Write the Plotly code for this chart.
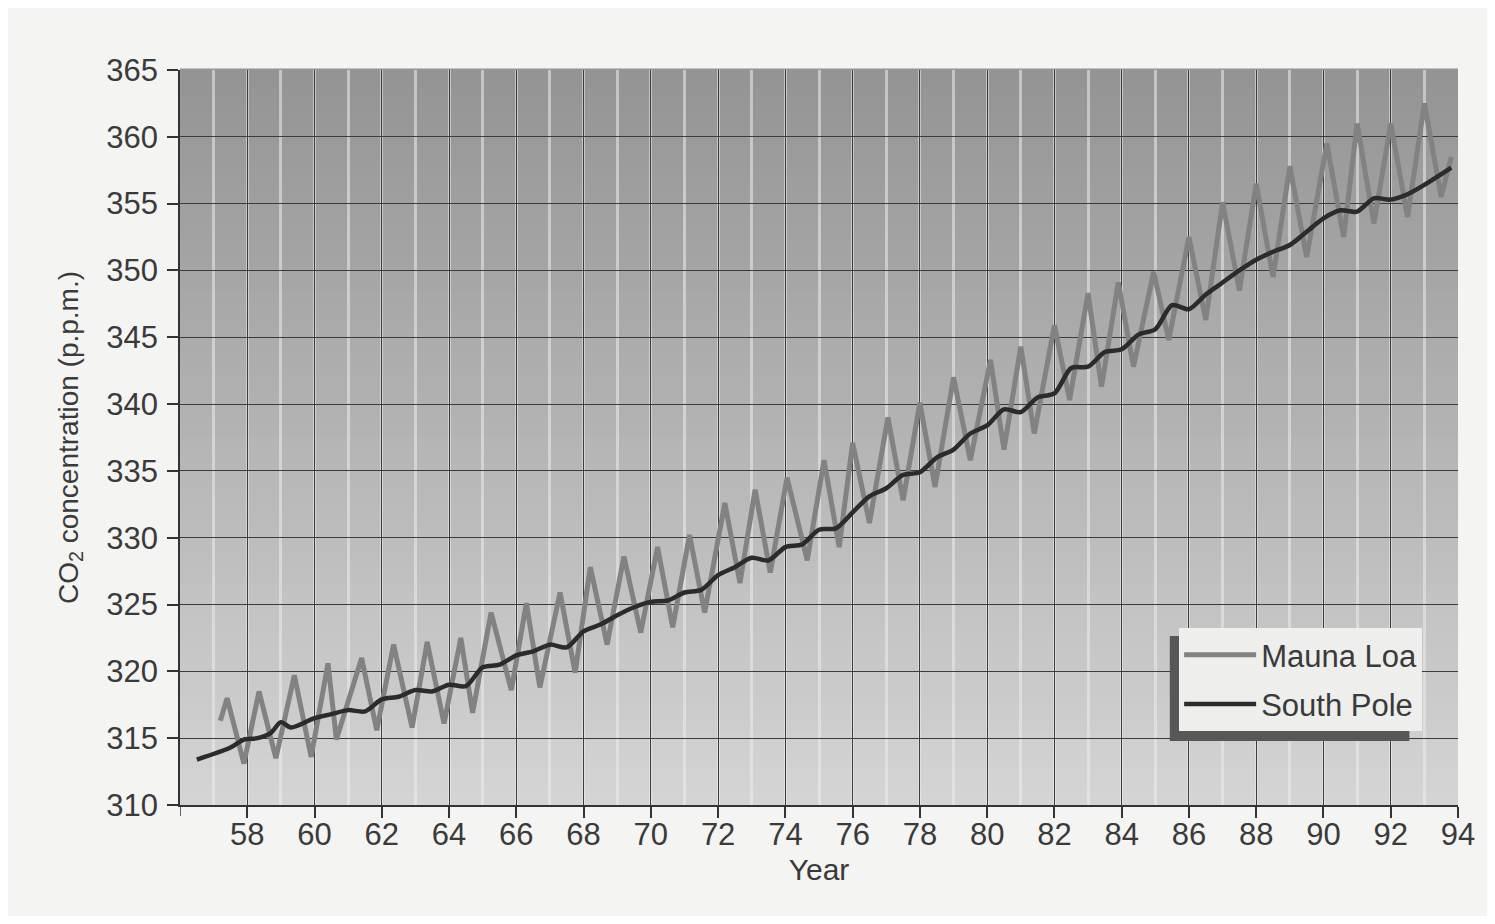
import plotly.graph_objects as go

# ---------------- data ----------------
ml_year = [57.2, 57.4, 57.9, 58.35, 58.85, 59.4, 59.9, 60.4, 60.65, 61.4, 61.85, 62.35, 62.9,
           63.35, 63.85, 64.35, 64.7, 65.25, 65.85, 66.3, 66.7, 67.3, 67.75, 68.2, 68.7, 69.2,
           69.7, 70.2, 70.65, 71.15, 71.6, 72.2, 72.65, 73.1, 73.55, 74.05, 74.65, 75.15, 75.6,
           76.0, 76.5, 77.05, 77.5, 78.0, 78.45, 79.0, 79.5, 80.1, 80.5, 81.0, 81.4, 82.0, 82.45,
           83.0, 83.4, 83.9, 84.35, 84.95, 85.4, 86.0, 86.5, 87.0, 87.5, 88.0, 88.5, 89.0, 89.5,
           90.1, 90.6, 91.0, 91.5, 92.0, 92.5, 93.0, 93.5, 93.8]
ml_co2 = [316.3, 318.0, 313.1, 318.5, 313.5, 319.7, 313.6, 320.6, 314.9, 321.0, 315.6, 322.0, 315.8,
          322.2, 316.1, 322.5, 316.9, 324.4, 318.6, 325.1, 318.8, 325.9, 319.9, 327.8, 322.0, 328.6,
          322.9, 329.3, 323.3, 330.2, 324.4, 332.6, 326.6, 333.6, 327.4, 334.5, 328.3, 335.8, 329.3,
          337.1, 331.1, 339.0, 332.8, 340.1, 333.8, 342.0, 335.8, 343.3, 336.6, 344.3, 337.8, 345.9, 340.3,
          348.3, 341.3, 349.1, 342.8, 349.9, 344.8, 352.5, 346.3, 355.1, 348.5, 356.5, 349.5, 357.8, 351.0,
          359.5, 352.5, 361.0, 353.5, 361.0, 354.0, 362.5, 355.5, 358.5]

sp_year = [56.5, 57.5, 57.9, 58.3, 58.7, 59.0, 59.3, 60.0, 60.5, 61.0, 61.5, 62.0, 62.5, 63.0,
           63.5, 64.0, 64.5, 65.0, 65.5, 66.0, 66.5, 67.0, 67.5, 68.0, 68.5, 69.0, 69.5, 70.0,
           70.5, 71.0, 71.5, 72.0, 72.5, 73.0, 73.5, 74.0, 74.5, 75.0, 75.5, 76.0, 76.5, 77.0,
           77.5, 78.0, 78.5, 79.0, 79.5, 80.0, 80.5, 81.0, 81.5, 82.0, 82.5, 83.0, 83.5, 84.0,
           84.5, 85.0, 85.5, 86.0, 86.5, 87.0, 87.5, 88.0, 88.5, 89.0, 89.5, 90.0, 90.5, 91.0,
           91.5, 92.0, 92.5, 93.0, 93.5, 93.8]
sp_co2 = [313.4, 314.3, 314.9, 315.0, 315.4, 316.2, 315.8, 316.5, 316.8, 317.1, 317.0, 317.9, 318.1, 318.6,
          318.5, 319.0, 318.9, 320.3, 320.5, 321.2, 321.5, 322.0, 321.8, 323.0, 323.5, 324.2, 324.8, 325.2,
          325.3, 325.9, 326.1, 327.2, 327.8, 328.5, 328.3, 329.3, 329.5, 330.6, 330.7, 331.9, 333.1, 333.7,
          334.7, 334.9, 336.0, 336.6, 337.8, 338.4, 339.6, 339.4, 340.5, 340.8, 342.7, 342.8, 343.9, 344.1,
          345.2, 345.6, 347.4, 347.1, 348.2, 349.1, 350.0, 350.8, 351.4, 351.9, 352.9, 353.9, 354.5, 354.4,
          355.4, 355.3, 355.7, 356.4, 357.2, 357.7]

x_tick_vals = list(range(58, 95, 2))
x_tick_text = [str(v) for v in x_tick_vals]
y_tick_vals = list(range(310, 366, 5))

X_RANGE = [56, 94]
Y_RANGE = [310, 365]

FONT = "Liberation Sans, Arial, sans-serif"
TXT = "#3a3a3a"

fig = go.Figure()

fig.add_trace(go.Scatter(
    x=ml_year, y=ml_co2, mode="lines", name="Mauna Loa", legendgroup="ml",
    line=dict(color="#828282", width=5),
))
fig.add_trace(go.Scatter(
    x=sp_year, y=sp_co2, mode="lines", name="South Pole", legendgroup="sp",
    line=dict(color="#2b2b2b", width=4.5, shape="spline", smoothing=0.8),
))

# vertical gradient background (dark at top, light at bottom) built from bands
shapes = []
n_bands = 60
top_rgb = (0x94, 0x94, 0x94)
bot_rgb = (0xd4, 0xd4, 0xd4)
for i in range(n_bands):
    t = i / (n_bands - 1)
    c = tuple(int(round(bot_rgb[k] + (top_rgb[k] - bot_rgb[k]) * t)) for k in range(3))
    shapes.append(dict(
        type="rect", xref="paper", yref="paper", layer="below",
        x0=0, x1=1, y0=i / n_bands, y1=(i + 1) / n_bands + 0.002,
        fillcolor="rgb(%d,%d,%d)" % c, line=dict(width=0),
    ))

# tick mark at the first (unlabelled) year on the x axis
shapes.append(dict(
    type="line", xref="x", yref="paper", ysizemode="pixel", yanchor=0,
    x0=X_RANGE[0], x1=X_RANGE[0], y0=0, y1=-11,
    line=dict(color="#333333", width=1.5),
))

# legend drop shadow (left and bottom)
shapes.append(dict(
    type="rect", xref="paper", yref="paper", layer="above",
    x0=0.7745, x1=0.962, y0=0.0870, y1=0.2299,
    fillcolor="#575757", line=dict(width=0),
))

fig.update_layout(
    width=1479, height=908,
    margin=dict(l=172, r=24, t=62, b=111),
    paper_bgcolor="#f4f4f2",
    plot_bgcolor="rgba(0,0,0,0)",
    font=dict(family=FONT, color=TXT, size=31),
    showlegend=True,
    legend=dict(
        x=0.7818, y=0.2408, xanchor="left", yanchor="top",
        bgcolor="#eeeeec", borderwidth=0,
        font=dict(family=FONT, size=31, color=TXT),
        itemwidth=72, tracegroupgap=6,
    ),
    shapes=shapes,
    xaxis=dict(
        range=X_RANGE, tickmode="array", tickvals=x_tick_vals, ticktext=x_tick_text,
        ticks="outside", ticklen=11, tickwidth=1.5, tickcolor="#333333",
        ticklabelstandoff=-10,
        showgrid=True, gridcolor="#3c3c3c", gridwidth=1.3,
        minor=dict(dtick=1, tick0=56, showgrid=True, gridcolor="rgba(236,236,236,0.55)",
                   gridwidth=3, ticks=""),
        showline=True, linecolor="#333333", linewidth=1.5,
        zeroline=False, tickfont=dict(size=31, family=FONT, color=TXT),
        title=dict(text="Year", font=dict(size=30, family=FONT, color=TXT), standoff=8),
    ),
    yaxis=dict(
        range=Y_RANGE, tickmode="array", tickvals=y_tick_vals,
        ticks="outside", ticklen=11, tickwidth=1.5, tickcolor="#333333",
        ticklabelstandoff=3,
        showgrid=True, gridcolor="#3c3c3c", gridwidth=1.3,
        showline=True, linecolor="#333333", linewidth=1.5,
        zeroline=False, tickfont=dict(size=31, family=FONT, color=TXT),
        title=dict(text="CO<sub>2</sub> concentration (p.p.m.)",
                   font=dict(size=28, family=FONT, color=TXT), standoff=20),
    ),
)

fig.write_html("out.html")
